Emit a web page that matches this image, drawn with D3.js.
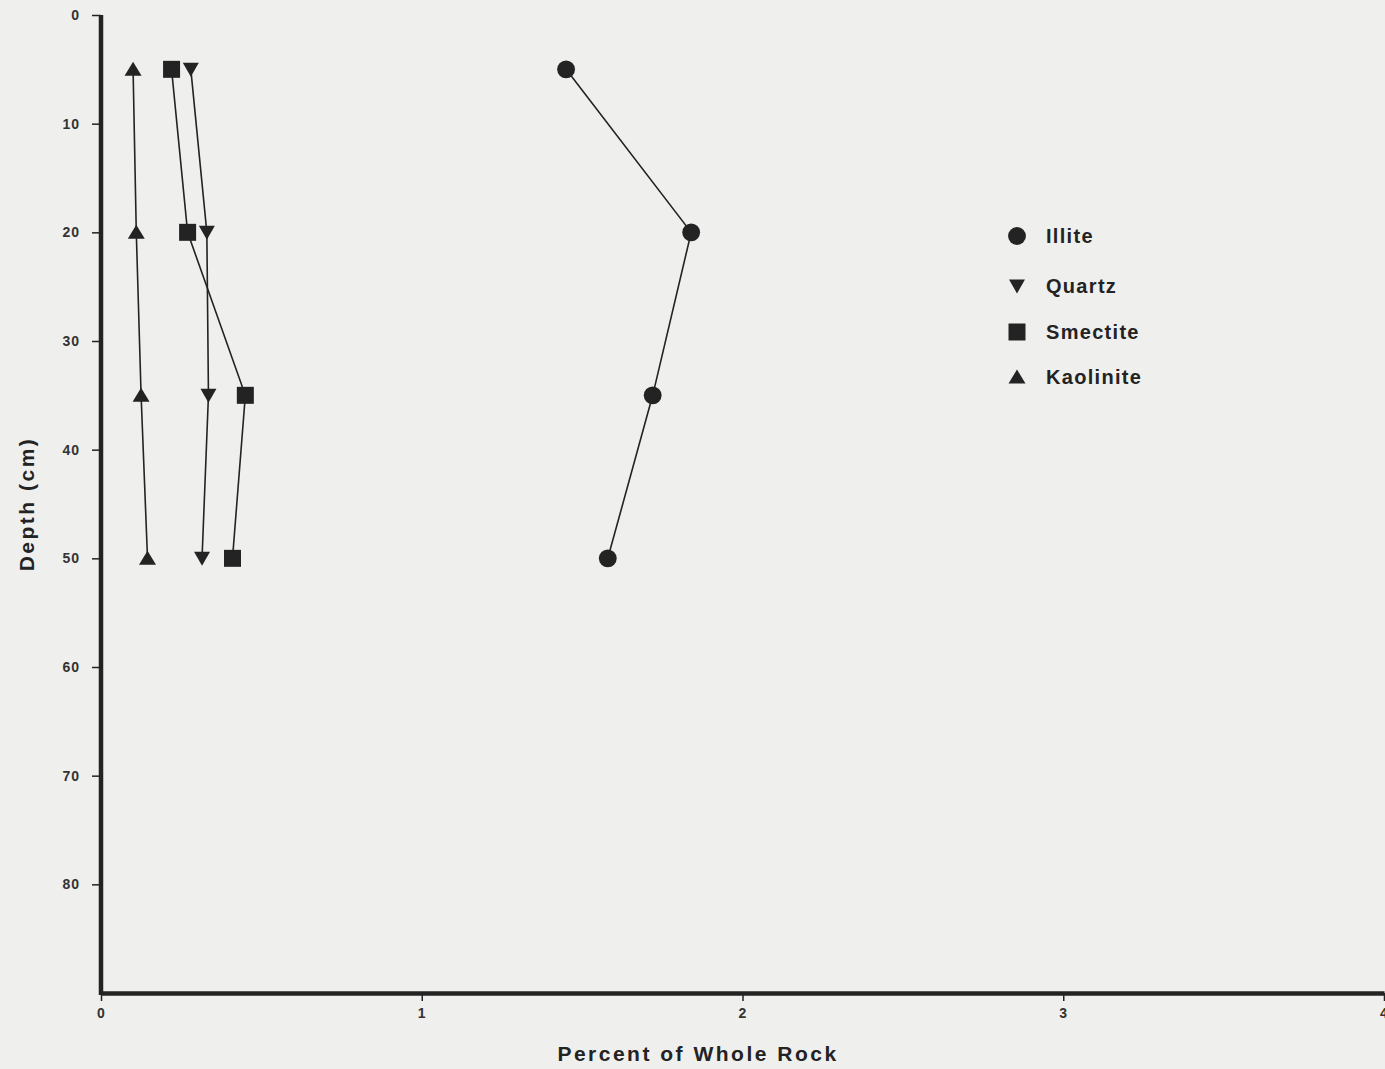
<!DOCTYPE html>
<html>
<head>
<meta charset="utf-8">
<script src="https://cdn.jsdelivr.net/npm/d3@7"></script>
<style>
  body { margin: 0; background: #efefed; }
  svg { display: block; font-family: "Liberation Sans", Arial, sans-serif; }
</style>
</head>
<body>
<svg id="chart" width="1385" height="1069"></svg>
<script>
// depths sampled (cm)
var depths = [5, 20, 35, 50];

// percent of whole rock
var illite    = [1.45, 1.84, 1.72, 1.58];
var quartz    = [0.28, 0.33, 0.335, 0.315];
var smectite  = [0.22, 0.27, 0.45, 0.41];
var kaolinite = [0.10, 0.11, 0.125, 0.145];

var xTicks = [0, 1, 2, 3, 4];
var yTicks = [0, 10, 20, 30, 40, 50, 60, 70, 80];

var series = [
  { name: "Illite",    values: illite,    symbol: "circle" },
  { name: "Quartz",    values: quartz,    symbol: "down" },
  { name: "Smectite",  values: smectite,  symbol: "square" },
  { name: "Kaolinite", values: kaolinite, symbol: "up" }
];

var ink = "#232323";

var svg = d3.select("#chart");

var x = d3.scaleLinear().domain([0, 4]).range([101, 1384]);
var y = d3.scaleLinear().domain([0, 90]).range([15, 993]);

// marker shapes, drawn as paths centred at 0,0
function marker(sym) {
  if (sym == "circle") return d3.symbol().type(d3.symbolCircle).size(250)();
  if (sym == "square") return "M-8.5,-8.5H8.5V8.5H-8.5Z";
  if (sym == "up") return "M0,-7.5L8.5,6.5L-8.5,6.5Z";
  return "M0,7.5L8,-6.5L-8,-6.5Z";
}

// axes
var yAxis = svg.append("g")
    .attr("transform", "translate(" + x(0) + ",0)")
    .call(d3.axisLeft(y).tickValues(yTicks).tickSize(9).tickPadding(12).tickSizeOuter(0));

var xAxis = svg.append("g")
    .attr("transform", "translate(0," + y(90) + ")")
    .call(d3.axisBottom(x).tickValues(xTicks).tickFormat(d3.format("d"))
      .tickSize(8).tickPadding(4).tickSizeOuter(0));

[yAxis, xAxis].forEach(function (g) {
  g.select(".domain").attr("stroke", ink).attr("stroke-width", 4.5);
  g.selectAll(".tick line").attr("stroke", ink).attr("stroke-width", 1.5);
  g.selectAll(".tick text")
      .attr("fill", "#333")
      .style("font-size", "14px")
      .style("font-weight", "bold")
      .style("letter-spacing", "1px");
});
// keep the vertical axis running all the way down to the corner
yAxis.select(".domain").attr("d", "M0," + y(0) + "V" + (y(90) + 2));
xAxis.selectAll(".tick text").attr("dy", "0.9em");

// lines and markers
var line = d3.line()
    .x(function (d) { return x(d[0]); })
    .y(function (d) { return y(d[1]); });

series.forEach(function (s) {
  var pts = s.values.map(function (v, i) { return [v, depths[i]]; });

  svg.append("path")
      .datum(pts)
      .attr("d", line)
      .attr("fill", "none")
      .attr("stroke", ink)
      .attr("stroke-width", 1.6);

  svg.selectAll(null)
      .data(pts)
      .enter().append("path")
      .attr("transform", function (d) { return "translate(" + x(d[0]) + "," + y(d[1]) + ")"; })
      .attr("d", marker(s.symbol))
      .attr("fill", ink);
});

// legend
var legendY = [236, 286, 332, 377];
var legend = svg.append("g").attr("transform", "translate(1017,0)");

series.forEach(function (s, i) {
  legend.append("path")
      .attr("transform", "translate(0," + legendY[i] + ")")
      .attr("d", marker(s.symbol))
      .attr("fill", ink);

  legend.append("text")
      .attr("x", 29)
      .attr("y", legendY[i])
      .attr("dy", "0.36em")
      .attr("fill", ink)
      .style("font-size", "20px")
      .style("font-weight", "bold")
      .style("letter-spacing", "1.3px")
      .text(s.name);
});

// axis titles
svg.append("text")
    .attr("x", 698)
    .attr("y", 1061)
    .attr("text-anchor", "middle")
    .attr("fill", ink)
    .style("font-size", "21px")
    .style("font-weight", "bold")
    .style("letter-spacing", "2.5px")
    .text("Percent of Whole Rock");

svg.append("text")
    .attr("transform", "translate(34,504) rotate(-90)")
    .attr("text-anchor", "middle")
    .attr("fill", ink)
    .style("font-size", "21px")
    .style("font-weight", "bold")
    .style("letter-spacing", "2.5px")
    .text("Depth (cm)");
</script>
</body>
</html>
